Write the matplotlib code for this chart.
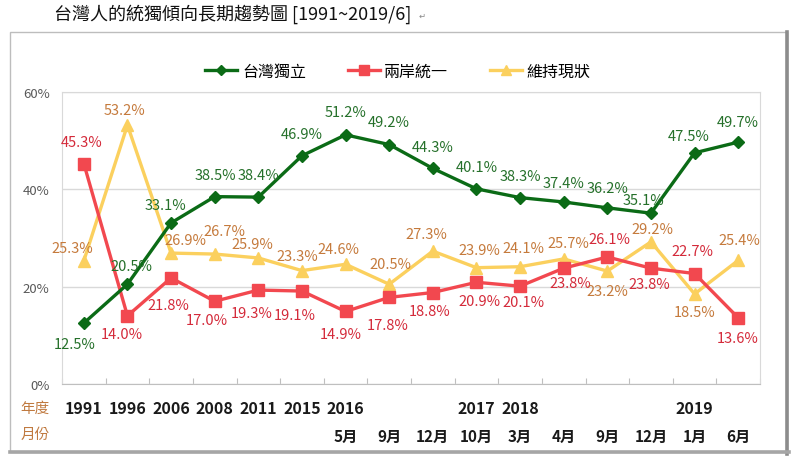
import matplotlib
matplotlib.use("Agg")
import matplotlib.pyplot as plt
from matplotlib.lines import Line2D
from matplotlib.patches import Rectangle
import matplotlib.transforms as mtransforms
import numpy as np

plt.rcParams['font.family'] = ['Noto Sans CJK TC', 'DejaVu Sans']

years = ["1991", "1996", "2006", "2008", "2011", "2015", "2016", "", "", "2017", "2018", "", "", "", "2019", ""]
months = ["", "", "", "", "", "", "5月", "9月", "12月", "10月", "3月", "4月", "9月", "12月", "1月", "6月"]

independence = [12.5, 20.5, 33.1, 38.5, 38.4, 46.9, 51.2, 49.2, 44.3, 40.1, 38.3, 37.4, 36.2, 35.1, 47.5, 49.7]
unification = [45.3, 14.0, 21.8, 17.0, 19.3, 19.1, 14.9, 17.8, 18.8, 20.9, 20.1, 23.8, 26.1, 23.8, 22.7, 13.6]
status_quo = [25.3, 53.2, 26.9, 26.7, 25.9, 23.3, 24.6, 20.5, 27.3, 23.9, 24.1, 25.7, 23.2, 29.2, 18.5, 25.4]

series_names = ["台灣獨立", "兩岸統一", "維持現狀"]

# label offsets in pixels (styling only)
off_g = [(-9, -21), (4, 18), (-6, 18), (1, 22), (0, 22), (0, 22), (0, 23), (0, 23), (0, 21), (0, 22), (0, 22), (0, 19), (0, 20), (-7, 13), (-6, 17), (0, 20)]
off_r = [(-2, 22), (-6, -18), (-3, -27), (-8, -19), (-7, -23), (-7, -24), (-5, -23), (-2, -28), (-3, -18), (3, -19), (3, -16), (7, -15), (2, 18), (-2, -16), (-2, 23), (0, -20)]
off_y = [(-12, 13), (-3, 15), (14, 13), (10, 23), (-6, 14), (-5, 15), (-7, 15), (1, 20), (-6, 17), (3, 18), (3, 19), (5, 16), (0, -20), (1, 13), (0, -18), (1, 20)]

W, H = 800, 464
fig = plt.figure(figsize=(W / 100, H / 100), dpi=100)

# outer frame
fig.patches.append(Rectangle((10 / W, 1 - 453 / H), 777 / W, 420 / H, transform=fig.transFigure,
                             facecolor='white', edgecolor='#bdbdbd', linewidth=1.0, zorder=-10))
fig.add_artist(Line2D([787 / W, 787 / W], [1 - 455 / H, 1 - 33 / H], transform=fig.transFigure, color='#8c8c8c', linewidth=2.6))
fig.add_artist(Line2D([10 / W, 789 / W], [1 - 453 / H, 1 - 453 / H], transform=fig.transFigure, color='#a6a6a6', linewidth=2.6))

ax = fig.add_axes([62 / W, 1 - 385 / H, 698 / W, 292 / H])
ax.set_facecolor('none')
x = np.arange(len(independence))
ax.set_xlim(-0.5, len(x) - 0.5)
ax.set_ylim(0, 60)

green, red, yellow = '#0b6b16', '#f2484f', '#fbd05e'
lg, lr, ly = '#25702a', '#d42a3a', '#c57a3c'

ax.plot(x, independence, color=green, lw=2.4, marker='D', ms=6.5, zorder=5, label=series_names[0])
ax.plot(x, unification, color=red, lw=2.4, marker='s', ms=8.5, zorder=4, label=series_names[1])
ax.plot(x, status_quo, color=yellow, lw=2.4, marker='^', ms=9, zorder=3, label=series_names[2])

for vals, offs, c in [(independence, off_g, lg), (unification, off_r, lr), (status_quo, off_y, ly)]:
    for i, (v, o) in enumerate(zip(vals, offs)):
        ax.annotate(f"{v:.1f}%", (i, v), xytext=o, textcoords='offset pixels', ha='center', va='center',
                    fontsize=10.5, color=c, zorder=6)

ax.set_yticks([0, 20, 40, 60])
ax.set_yticklabels(["0%", "20%", "40%", "60%"], fontsize=9.5, color='#595959')
ax.yaxis.set_tick_params(length=0, pad=9)
ax.grid(axis='y', color='#d9d9d9', linewidth=1)
ax.set_axisbelow(True)
ax.set_xticks(np.arange(-0.5, len(x), 1))
ax.set_xticklabels([])
ax.tick_params(axis='x', direction='in', length=4, color='#bfbfbf')
for s in ['left', 'right', 'top']:
    ax.spines[s].set_color('#d9d9d9')
ax.spines['bottom'].set_color('#bfbfbf')

tr = mtransforms.blended_transform_factory(ax.transData, fig.transFigure)
for i, (yr, mo) in enumerate(zip(years, months)):
    if yr:
        ax.text(i, 1 - 409 / H, yr, transform=tr, ha='center', va='center', fontsize=11.5,
                fontweight='bold', color='#1a1a1a', clip_on=False)
    if mo:
        ax.text(i, 1 - 437 / H, mo, transform=tr, ha='center', va='center', fontsize=11,
                fontweight='bold', color='#1a1a1a', clip_on=False)

fig.text(35 / W, 1 - 409 / H, "年度", ha='center', va='center', fontsize=10.5, color='#c07a40')
fig.text(35 / W, 1 - 435 / H, "月份", ha='center', va='center', fontsize=10.5, color='#c07a40')

fig.text(233 / W, 1 - 14 / H, "台灣人的統獨傾向長期趨勢圖 [1991~2019/6]", ha='center', va='center', fontsize=13, color='#111111')
fig.text(422 / W, 1 - 16 / H, "↵", ha='center', va='center', fontsize=6, color='#888888', family=['DejaVu Sans'])

handles, labels = ax.get_legend_handles_labels()
fig.legend(handles, labels, loc='center', bbox_to_anchor=(398 / W, 1 - 72 / H), ncol=3, frameon=False,
           fontsize=11.5, handlelength=2.0, columnspacing=2.6, handletextpad=0.3, markerscale=0.8)

fig.savefig("out.png", dpi=100)
